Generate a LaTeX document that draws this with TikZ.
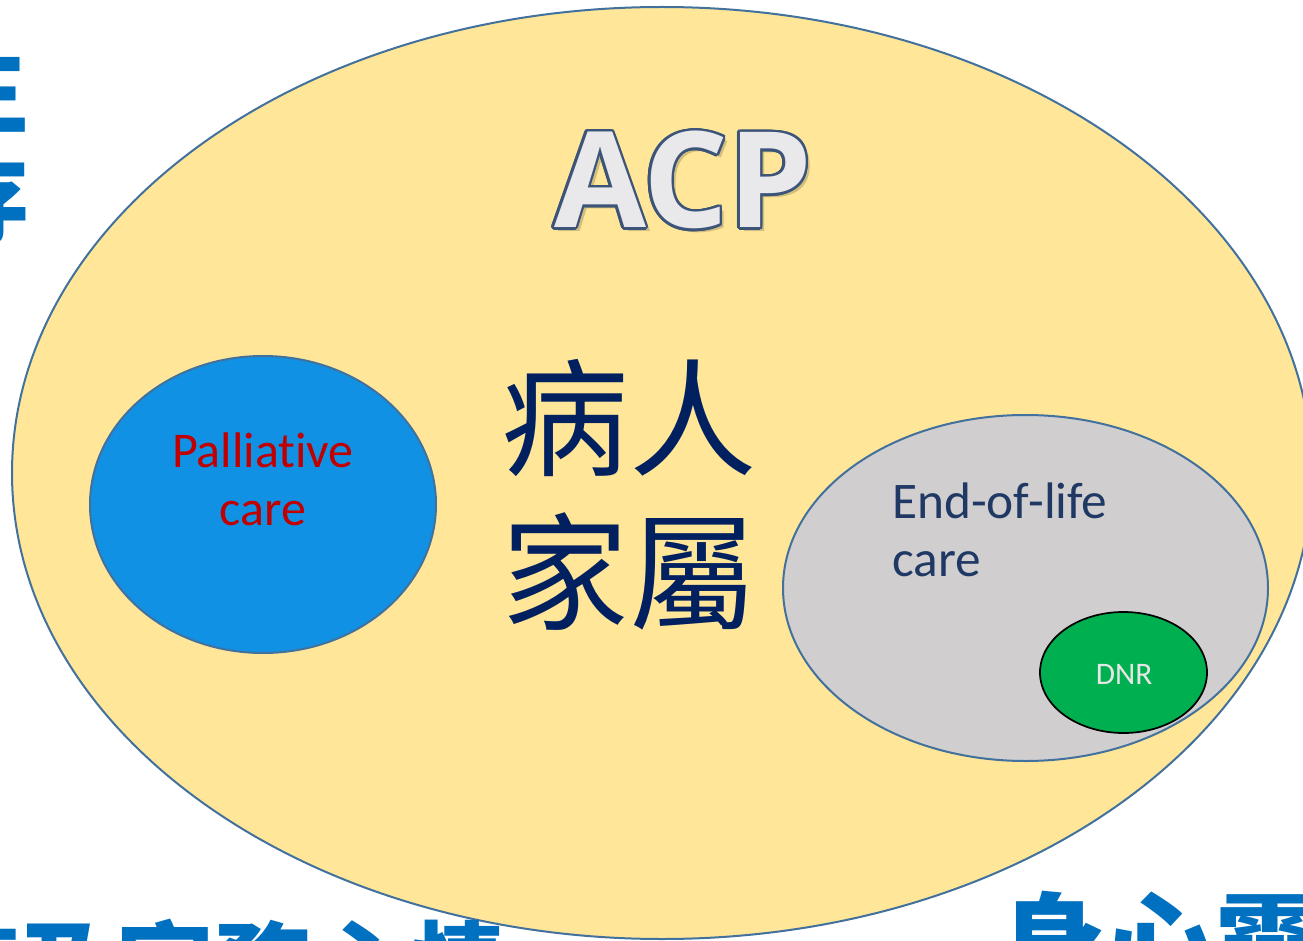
\documentclass[tikz,border=0pt]{standalone}
\usepackage{fontspec}
\setmainfont{Carlito}[Ligatures=NoCommon]
\newfontfamily\cjkfont{Noto Sans CJK TC}
\newfontfamily\titlefont{Open Sans}
\newcommand\sidefont{\cjkfont\bfseries}

\definecolor{acpyellow}{HTML}{FFE699}
\definecolor{acpedge}{HTML}{41719C}
\definecolor{pallblue}{HTML}{1191E4}
\definecolor{pallred}{HTML}{C00000}
\definecolor{eolgray}{HTML}{D0CECE}
\definecolor{eolink}{HTML}{1F3864}
\definecolor{dnrgreen}{HTML}{00B050}
\definecolor{dnrtext}{HTML}{E7E6E6}
\definecolor{familyink}{HTML}{002060}
\definecolor{titleface}{HTML}{E9E9EB}
\definecolor{titleedge}{HTML}{3B5478}
\definecolor{sideblue}{HTML}{0070C0}

\tikzset{
  venn/.style={draw=acpedge,line width=1.5pt},
  acptitle/.style={font=\titlefont\bfseries\fontsize{100}{110}\selectfont},
  sidetext/.style={text=sideblue,inner sep=0pt}
}

\begin{document}
\begin{tikzpicture}[x=.75pt,y=-.75pt]
        \useasboundingbox (0,0) rectangle (1303,941);
        \clip (0,0) rectangle (1303,941);
        \fill[white] (0,0) rectangle (1303,941);

        \coordinate (acp) at (662,473);
        \coordinate (palliative) at (263,504.5);
        \coordinate (endoflife) at (1025.5,588);
        \coordinate (dnr) at (1123.5,672.5);

        % the nested sets
        \draw[venn,fill=acpyellow] (acp) ellipse [x radius=650,y radius=466];
        \draw[venn,fill=pallblue] (palliative) ellipse [x radius=173,y radius=148.5];
        \draw[venn,fill=eolgray] (endoflife) ellipse [x radius=242.5,y radius=173];
        \draw[black,line width=1.3pt,fill=dnrgreen] (dnr) ellipse [x radius=83.5,y radius=60.5];

        % outlined title with a soft shadow
        \node[acptitle,text=acpyellow!82!black] (acpshadow) at (687,184) {ACP};
        \foreach \a in {0,20,...,340}
          \path (683,180) ++(\a:2.6) node[acptitle,text=titleedge] (acpring\a) {ACP};
        \node[acptitle,text=titleface] (acptitle) at (683,180) {ACP};

        \node[align=center,text=pallred,font=\fontsize{37.5}{43.5}\selectfont]
          (pallcare) at (263,479) {Palliative\\care};
        \node[anchor=west,align=left,inner sep=0pt,text=eolink,
          font=\fontsize{38.5}{43.5}\selectfont] (eolcare) at (892,530) {End-of-life\\care};
        \node[text=dnrtext,font=\fontsize{23.5}{27}\selectfont] (dnrlabel) at (1124,674) {DNR};
        \node[align=center,text=familyink,font=\cjkfont\fontsize{95.5}{115}\selectfont]
          (family) at (629,495) {病人\\家屬};

        % captions running off the edges
        \node[sidetext,align=center,font=\sidefont\fontsize{75}{82}\selectfont]
          (sideleft) at (-20,142.5) {生\\存};
        \node[sidetext,anchor=base west,font=\sidefont\fontsize{73}{80}\selectfont]
          (sidebottom) at (-78,1003) {濟及家務心情};
        \node[sidetext,anchor=base west,font=\sidefont\fontsize{82.5}{90}\selectfont]
          (sideright) at (995,985) {身心靈};
      \end{tikzpicture}
\end{document}
